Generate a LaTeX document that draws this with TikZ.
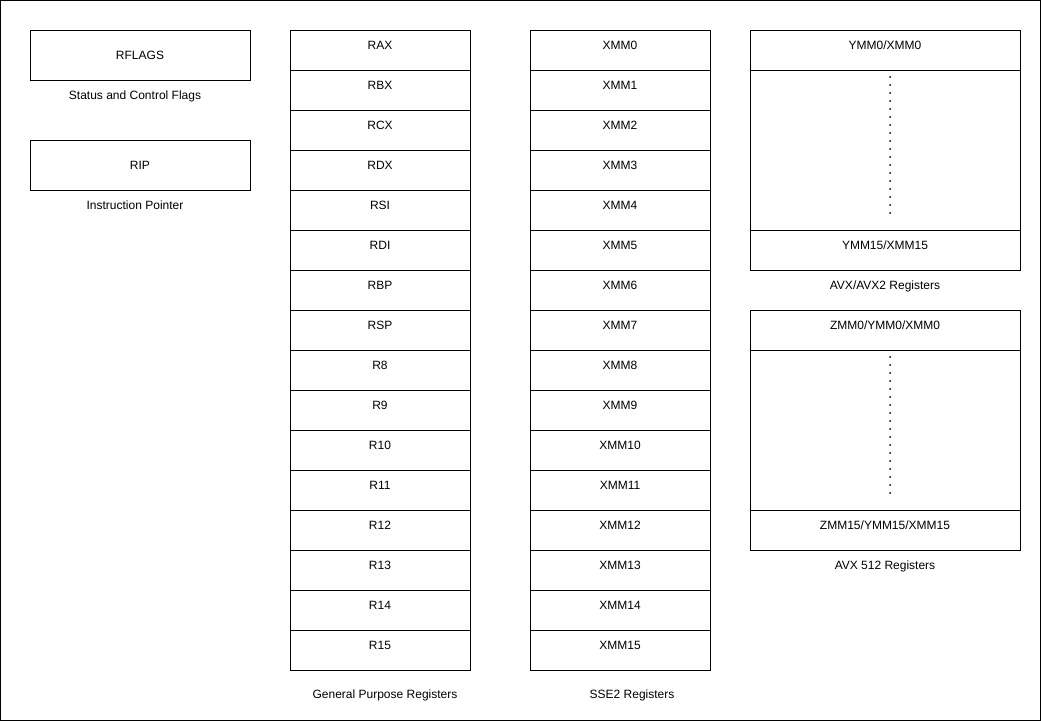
\documentclass[tikz,border=0pt]{standalone}
\usepackage{fontspec}
\setmainfont{Liberation Sans}
\usetikzlibrary{positioning}

\tikzset{
  regbox/.style={draw, line width=1pt, outer sep=0pt, inner sep=0pt,
    minimum width=180pt, minimum height=40pt},
  regtext/.style={font=\fontsize{12}{14}\selectfont, inner sep=0pt, anchor=base},
  caption/.style={font=\fontsize{12}{14}\selectfont, inner sep=0pt, anchor=base},
  vdots/.style={line width=2pt, line cap=round, dash pattern=on 0pt off 8pt},
}

\begin{document}
\begin{tikzpicture}[x=1pt, y=-1pt]
\useasboundingbox (0,0) rectangle (1041,721);
\draw[line width=1pt] (0.5,0.5) rectangle (1040.5,720.5);

% flags and instruction pointer
\node[regbox, minimum width=220pt, minimum height=50pt, font=\fontsize{12}{14}\selectfont] (rflags) at (140,55) {RFLAGS};
\node[caption] (rflagscap) at (135,99.3) {Status and Control Flags};
\node[regbox, minimum width=220pt, minimum height=50pt, font=\fontsize{12}{14}\selectfont] (rip) at (140,165) {RIP};
\node[caption] (ripcap) at (135,209.3) {Instruction Pointer};

% general purpose registers
\foreach \name [count=\i from 0] in {RAX,RBX,RCX,RDX,RSI,RDI,RBP,RSP,R8,R9,R10,R11,R12,R13,R14,R15}
{
  \node[regbox] (gpr\i) at (380,50+40*\i) {};
  \node[regtext] (gprtext\i) at ([yshift=-19.3pt]gpr\i.north) {\name};
}
\node[caption] (gprcap) at (385,698.3) {General Purpose Registers};

% sse2 registers
\foreach \i in {0,...,15}
{
  \node[regbox] (xmm\i) at (620,50+40*\i) {};
  \node[regtext] (xmmtext\i) at ([yshift=-19.3pt]xmm\i.north) {XMM\i};
}
\node[caption] (xmmcap) at (632,698.3) {SSE2 Registers};

% avx/avx2 registers
\node[regbox, minimum width=270pt] (ymmtop) at (885,50) {};
\node[regbox, minimum width=270pt, minimum height=160pt, below=0pt of ymmtop] (ymmmid) {};
\node[regbox, minimum width=270pt, below=0pt of ymmmid] (ymmbot) {};
\node[regtext] (ymmtoptext) at ([yshift=-19.3pt]ymmtop.north) {YMM0/XMM0};
\node[regtext] (ymmbottext) at ([yshift=-19.3pt]ymmbot.north) {YMM15/XMM15};
\draw[vdots] ([xshift=5pt, yshift=-7pt]ymmmid.north) -- ([xshift=5pt, yshift=15pt]ymmmid.south);
\node[caption] (ymmcap) at (885,289.3) {AVX/AVX2 Registers};

% avx 512 registers
\node[regbox, minimum width=270pt] (zmmtop) at (885,330) {};
\node[regbox, minimum width=270pt, minimum height=160pt, below=0pt of zmmtop] (zmmmid) {};
\node[regbox, minimum width=270pt, below=0pt of zmmmid] (zmmbot) {};
\node[regtext] (zmmtoptext) at ([yshift=-19.3pt]zmmtop.north) {ZMM0/YMM0/XMM0};
\node[regtext] (zmmbottext) at ([yshift=-19.3pt]zmmbot.north) {ZMM15/YMM15/XMM15};
\draw[vdots] ([xshift=5pt, yshift=-7pt]zmmmid.north) -- ([xshift=5pt, yshift=15pt]zmmmid.south);
\node[caption] (zmmcap) at (885,569.3) {AVX 512 Registers};
\end{tikzpicture}
\end{document}
